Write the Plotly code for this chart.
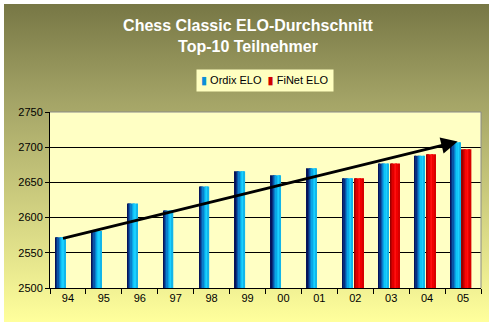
import plotly.graph_objects as go

years = ["94", "95", "96", "97", "98", "99", "00", "01", "02", "03", "04", "05"]
ordix_elo = [2572, 2581, 2620, 2610, 2644, 2666, 2660, 2670, 2656, 2677, 2688, 2707]
finet_elo = [None, None, None, None, None, None, None, None, 2656, 2677, 2690, 2697]
series_names = ["Ordix ELO", "FiNet ELO"]
trend_x = [-0.18, 10.85]
trend_y = [2570, 2708]
y_ticks = [2500, 2550, 2600, 2650, 2700, 2750]

W, H = 496, 329
ML, MR, MT, MB = 50, 15, 112, 41
PW, PH = W - ML - MR, H - MT - MB

blue_strips = ["#06145a", "#08307e", "#0a56a8", "#0a80cc", "#0aa6e6", "#10c4f6", "#1ad0ff", "#12b6ea"]
red_strips = ["#9a0000", "#c00000", "#e00000", "#f80808", "#ff1010", "#f00000", "#d80000"]

fig = go.Figure()

def add_strips(vals, colors, offset, width, name):
    sw = width / len(colors)
    for i, c in enumerate(colors):
        fig.add_trace(go.Bar(
            x=years, y=vals, base=0,
            offset=offset + i * sw, width=sw + 0.002,
            marker=dict(color=c, line=dict(width=0)),
            name=name, legendgroup=name, showlegend=False,
        ))

add_strips(ordix_elo, blue_strips, -0.35, 0.28, series_names[0])
add_strips(finet_elo, red_strips, -0.03, 0.26, series_names[1])

svg = ("data:image/svg+xml;charset=utf-8,"
       "<svg xmlns='http://www.w3.org/2000/svg' width='100' height='100' preserveAspectRatio='none'>"
       "<defs><linearGradient id='g' x1='0' y1='0' x2='0' y2='1'>"
       "<stop offset='0' stop-color='%23777745'/>"
       "<stop offset='0.3' stop-color='%23a3a366'/>"
       "<stop offset='1' stop-color='%23ffff9c'/>"
       "</linearGradient></defs>"
       "<rect width='100' height='100' fill='url(%23g)'/></svg>")

fx0, fx1, fy0, fy1 = 4, 489, 4, 322
fig.add_layout_image(dict(
    source=svg, xref="paper", yref="paper",
    x=(fx0 - ML) / PW, y=(H - MB - fy0) / PH,
    sizex=(fx1 - fx0) / PW, sizey=(fy1 - fy0) / PH,
    xanchor="left", yanchor="top", sizing="stretch", layer="below",
))

fig.add_shape(type="rect", xref="paper", yref="paper", x0=0, x1=1, y0=0, y1=1,
              fillcolor="#ffffc4", line=dict(width=0), layer="below")
fig.add_shape(type="line", xref="paper", yref="paper", x0=0, x1=1, y0=1, y1=1,
              line=dict(color="#8a8a8a", width=1), layer="above")
fig.add_shape(type="line", xref="paper", yref="paper", x0=1, x1=1, y0=0, y1=1,
              line=dict(color="#8a8a8a", width=1), layer="above")

fig.add_annotation(x=trend_x[1], y=trend_y[1], ax=trend_x[0], ay=trend_y[0],
                   xref="x", yref="y", axref="x", ayref="y", text="",
                   showarrow=True, arrowhead=2, arrowsize=1.1, arrowwidth=3,
                   arrowcolor="black")

font = "Liberation Sans, Arial, sans-serif"

# legend box (compact, like the original)
legend_text = ("<span style='color:#0a90d8;font-family:DejaVu Sans'>▮</span> %s  "
               "<span style='color:#d00000;font-family:DejaVu Sans'>▮</span> %s"
               % (series_names[0], series_names[1]))
fig.add_annotation(x=(264.5 - ML) / PW, y=(H - MB - 80.5) / PH, xref="paper", yref="paper",
                   xanchor="center", yanchor="middle", text=legend_text, showarrow=False,
                   bgcolor="#ffffc0", borderpad=4,
                   font=dict(family=font, size=11, color="black"))

fig.update_layout(
    width=W, height=H,
    margin=dict(l=ML, r=MR, t=MT, b=MB, pad=0),
    paper_bgcolor="white", plot_bgcolor="rgba(0,0,0,0)",
    barmode="overlay",
    title=dict(text="Chess Classic ELO-Durchschnitt<br>Top-10 Teilnehmer",
               x=(248 - ML) / PW, xanchor="center", xref="paper", yref="container",
               y=1 - 31 / H, yanchor="middle",
               font=dict(family=font, size=16, color="white", weight="bold")),
    font=dict(family=font, size=11, color="black"),
    showlegend=False,
)
fig.update_xaxes(type="category", categoryorder="array", categoryarray=years,
                 showline=True, linecolor="black", linewidth=1,
                 ticks="outside", ticklen=5, tickcolor="black", tickson="boundaries",
                 showgrid=False, tickfont=dict(family=font, size=11, color="black"),
                 range=[-0.5, 11.5])
fig.update_yaxes(range=[2500, 2750], tickvals=y_ticks, showline=True, linecolor="black",
                 linewidth=1, ticks="outside", ticklen=4, tickcolor="black",
                 showgrid=True, gridcolor="black", gridwidth=1, zeroline=False,
                 tickfont=dict(family=font, size=11, color="black"))

fig.write_html("out.html")
